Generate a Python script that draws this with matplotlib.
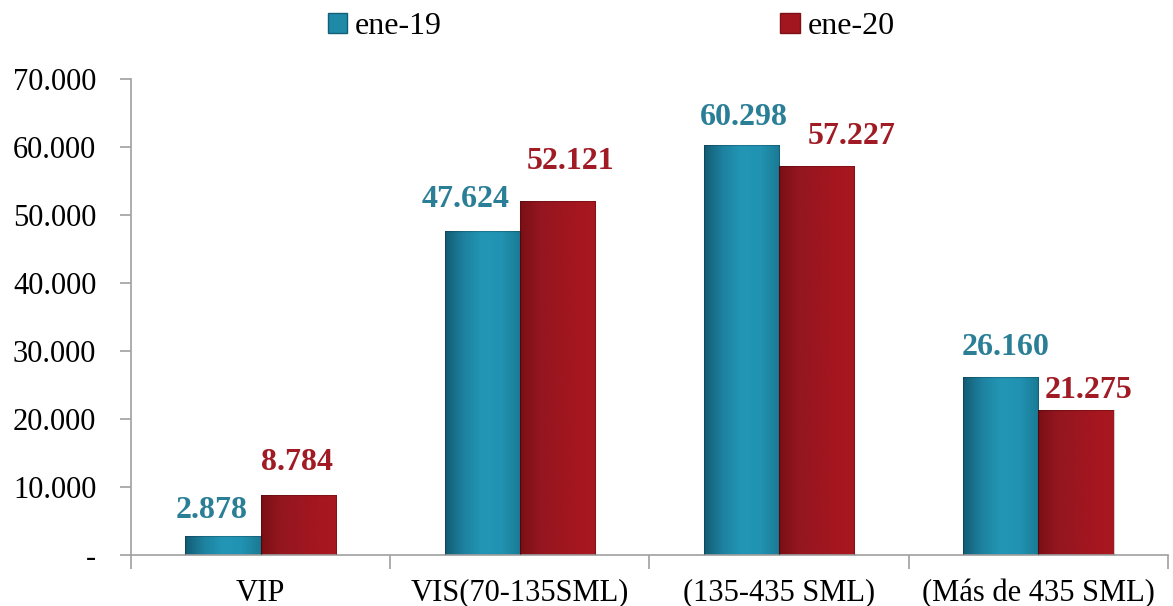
import numpy as np
import matplotlib.pyplot as plt
from matplotlib.colors import LinearSegmentedColormap
from matplotlib.patches import Patch

categories = ['VIP', 'VIS(70-135SML)', '(135-435 SML)', '(Más de 435 SML)']
ene19 = [2878, 47624, 60298, 26160]
ene20 = [8784, 52121, 57227, 21275]
series_names = ['ene-19', 'ene-20']

# label nudges (pixels) to mimic the hand-placed labels
off19 = [(-11, 18), (-17, 24), (2, 20), (5, 22)]
off20 = [(-1, 25), (13, 32), (35, 22), (13, 12)]

blue_cmap = LinearSegmentedColormap.from_list('b', ['#135b73', '#1d82a0', '#2396b6', '#2192b1', '#1a7a95'])
red_cmap = LinearSegmentedColormap.from_list('r', ['#7a0f15', '#93161f', '#9c1620', '#a5161f', '#a81820'])

plt.rcParams['font.family'] = ['Liberation Serif', 'DejaVu Serif']

fig, ax = plt.subplots(figsize=(11.73, 6.06), dpi=100)
fig.subplots_adjust(left=0.1117, right=0.9957, top=0.8696, bottom=0.084)

x = np.arange(len(categories))
width = 0.29

def gradient_bars(xpos, vals, cmap):
    bars = ax.bar(xpos, vals, width, color='none', edgecolor='none')
    grad = np.linspace(0, 1, 256).reshape(1, -1)
    for b in bars:
        x0, y0 = b.get_x(), b.get_y()
        w, h = b.get_width(), b.get_height()
        im = ax.imshow(grad, cmap=cmap, aspect='auto', extent=[x0, x0 + w, y0, y0 + h], zorder=2)
        im.set_clip_path(b)
        ax.add_patch(plt.Rectangle((x0, y0), w, h, fill=False, edgecolor=(0, 0, 0, 0.2), linewidth=0.8, zorder=3))
    return bars

gradient_bars(x - width / 2, ene19, blue_cmap)
gradient_bars(x + width / 2, ene20, red_cmap)

def fmt(v):
    return f'{v:,}'.replace(',', '.')

px = 72 / 100
for xi, v, (dx, dy) in zip(x, ene19, off19):
    ax.annotate(fmt(v), (xi - width / 2, v), xytext=(dx * px, dy * px), textcoords='offset points',
                ha='center', va='baseline', color='#2a7f97', fontsize=23, fontweight='bold')
for xi, v, (dx, dy) in zip(x, ene20, off20):
    ax.annotate(fmt(v), (xi + width / 2, v), xytext=(dx * px, dy * px), textcoords='offset points',
                ha='center', va='baseline', color='#a01b24', fontsize=23, fontweight='bold')

ax.set_xlim(-0.5, len(categories) - 0.5)
ax.set_ylim(0, 70000)
ax.set_yticks(np.arange(0, 70001, 10000))
ax.set_yticklabels(['-'] + [fmt(v) for v in range(10000, 70001, 10000)], fontsize=22)
ax.set_xticks(x)
ax.set_xticklabels(categories, fontsize=22)
ax.set_xticks(np.arange(-0.5, len(categories)), minor=True)
ax.tick_params(axis='x', which='major', length=0, pad=17)
ax.tick_params(axis='x', which='minor', length=10, color='#a0a0a0', width=1.2)
ax.tick_params(axis='y', length=8, color='#a0a0a0', width=1.2, pad=17)
for s in ['top', 'right']:
    ax.spines[s].set_visible(False)
for s in ['left', 'bottom']:
    ax.spines[s].set_color('#a0a0a0')
    ax.spines[s].set_linewidth(1.2)

handles = [Patch(facecolor='#1f8aa8', edgecolor='#145f75'), Patch(facecolor='#a2161f', edgecolor='#7e1016')]
fig.legend(handles, series_names, loc='upper center', bbox_to_anchor=(0.521, 1.027), ncol=2, frameon=False,
           fontsize=23, handlelength=0.6, handleheight=0.6, handletextpad=0.25, columnspacing=10.6)

fig.savefig('out.png', dpi=100)
